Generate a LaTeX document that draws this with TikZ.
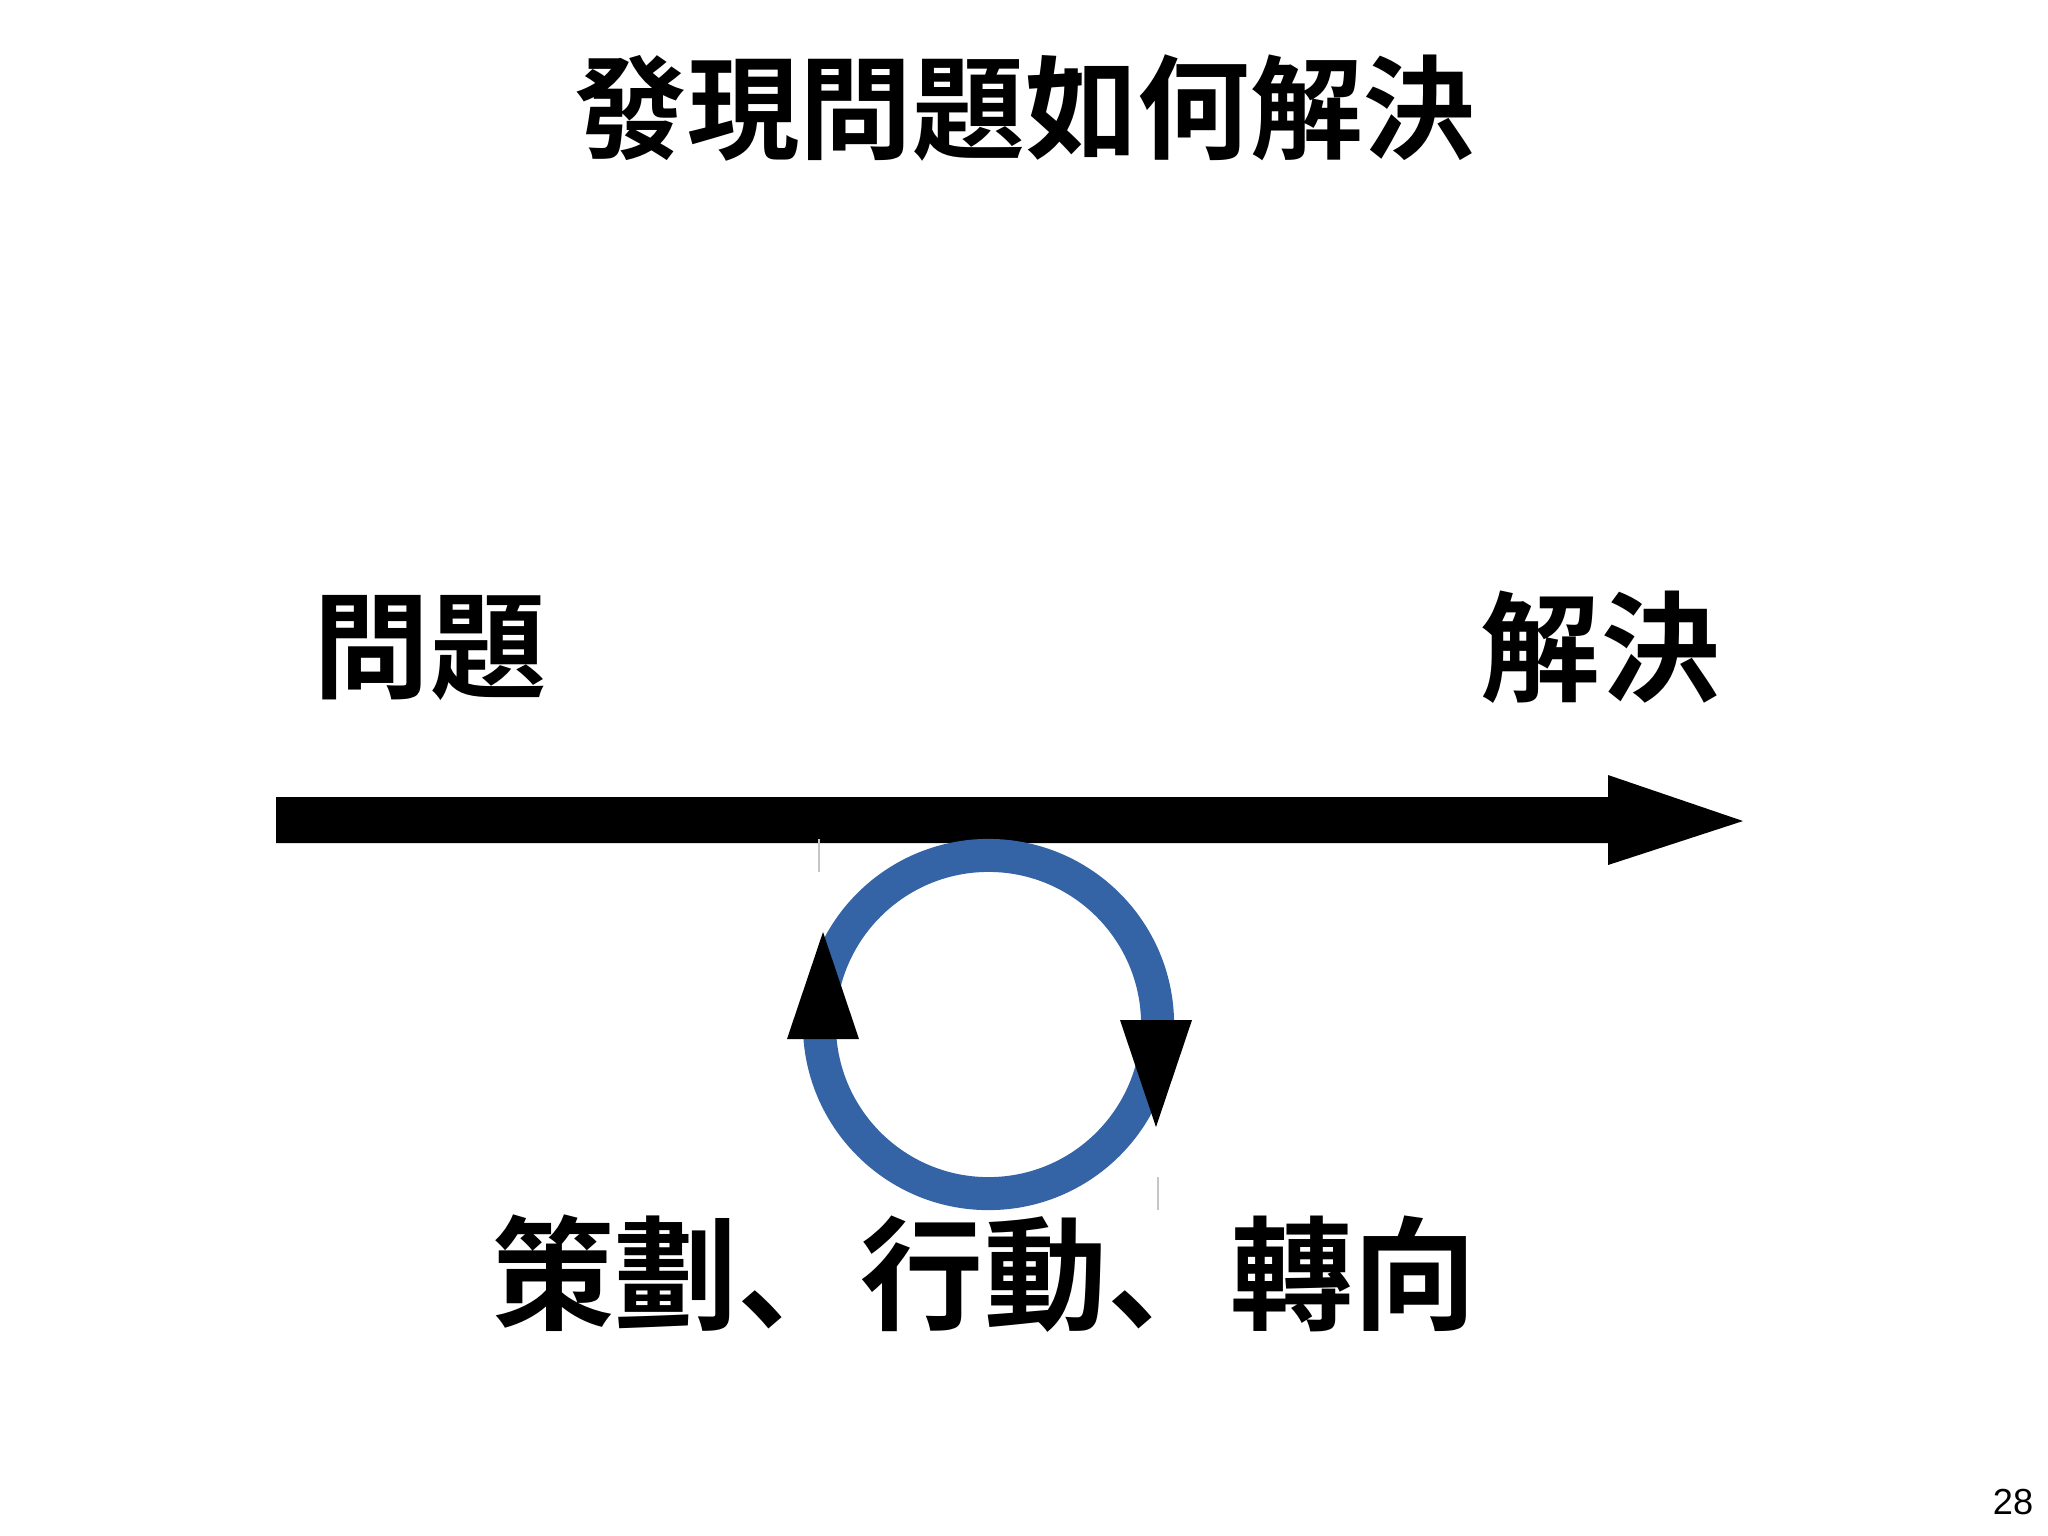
\documentclass[tikz,border=0pt]{standalone}
\usepackage{fontspec}
\usepackage{tikz}
\usepackage{xcolor}
\setmainfont{Liberation Sans}
\newfontfamily\cjk{Noto Sans CJK TC}[BoldFont={Noto Sans CJK TC Bold}]
\newfontfamily\cjkjp{Noto Sans CJK JP}[BoldFont={Noto Sans CJK JP Bold}]
\newcommand{\dun}{{\cjkjp\bfseries 、}}
\definecolor{ringblue}{RGB}{52,100,165}
\tikzset{
  bigtext/.style={font=\cjk\bfseries\fontsize{33}{33}\selectfont, inner sep=0pt},
  ring/.style={draw=ringblue, line width=0.33cm},
  tip/.style={fill=black},
  hair/.style={draw=gray!45, line width=0.3pt}
}

\begin{document}
\begin{tikzpicture}[x=0.01cm,y=-0.01cm]
\useasboundingbox (0,0) rectangle (2048,1535);
% title
\node[bigtext, font=\cjk\bfseries\fontsize{32}{32}\selectfont] (title) at (1025,108) {發現問題如何解決};
\node[bigtext] (wenti) at (430,648) {問題};
\node[bigtext, font=\cjk\bfseries\fontsize{34}{34}\selectfont] (jiejue) at (1600,647) {解決};
% main arrow
\fill (276,797) -- (1608,797) -- (1608,775) -- (1743,821) -- (1608,865) -- (1608,843) -- (276,843) -- cycle;
% cycle
\draw[ring] (988.5,1024.5) circle (1.69cm);
\fill[tip] (787,1039) -- (859,1039) -- (823,932) -- cycle;
\fill[tip] (1120,1020) -- (1192,1020) -- (1156,1127) -- cycle;
\draw[hair] (819,839) -- (819,872);
\draw[hair] (1158,1177) -- (1158,1210);
\node[bigtext, font=\cjk\bfseries\fontsize{35}{35}\selectfont] (steps) at (984,1274) {策劃\dun 行動\dun 轉向};
\node[inner sep=0pt, font=\fontsize{10.3}{10.3}\selectfont] (page) at (2013,1502) {28};
\end{tikzpicture}
\end{document}
